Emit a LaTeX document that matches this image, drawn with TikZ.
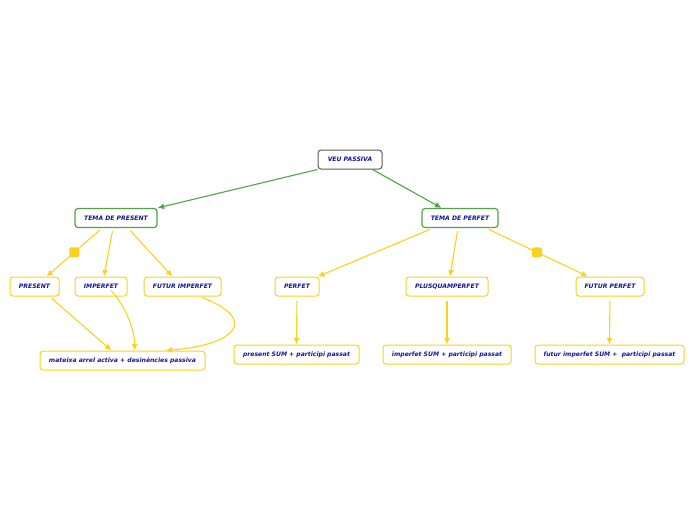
\documentclass[tikz,border=0pt]{standalone}
\usepackage{fontspec}
\setmainfont{DejaVu Sans}
\usetikzlibrary{arrows.meta}
\definecolor{mapgold}{RGB}{250,210,30}
\definecolor{mapgreen}{RGB}{80,165,70}
\definecolor{mapgray}{RGB}{90,90,90}
\definecolor{mapnavy}{RGB}{20,20,150}
\begin{document}
\begin{tikzpicture}[x=1pt, y=-1pt, >={Latex[length=6.5pt,width=6pt]},
    box/.style={draw, rounded corners=3pt, fill=white, minimum height=19pt, inner sep=0pt,
        text=mapnavy, font=\fontsize{6.1}{7}\selectfont\bfseries\itshape, line width=1pt},
    rootbox/.style={box, draw=mapgray},
    greenbox/.style={box, draw=mapgreen, line width=1.2pt},
    goldbox/.style={box, draw=mapgold},
    greenline/.style={->, mapgreen, line width=1.1pt},
    goldline/.style={->, mapgold, line width=1.1pt, shorten <=3pt},
    knob/.style={fill=mapgold, rounded corners=1.5pt, minimum size=10pt, inner sep=0pt}]
        \useasboundingbox (0,0) rectangle (696,520);
        % 1. Arrel
        \node[rootbox, minimum width=64pt] (veu) at (350,159.5) {VEU PASSIVA};
        
        % 2. Temes
        \node[greenbox, minimum width=82pt] (tpres) at (116,218) {TEMA DE PRESENT};
        \node[greenbox, minimum width=76pt] (tperf) at (460,218) {TEMA DE PERFET};
        
        % 3. Temps verbals
        \node[goldbox, minimum width=49pt] (pres) at (34.5,286.5) {PRESENT};
        \node[goldbox, minimum width=52pt] (imperf) at (101,286.5) {IMPERFET};
        \node[goldbox, minimum width=77pt] (futimp) at (182.5,286.5) {FUTUR IMPERFET};
        \node[goldbox, minimum width=44pt] (perf) at (297,286.5) {PERFET};
        \node[goldbox, minimum width=82pt] (plusq) at (447,286.5) {PLUSQUAMPERFET};
        \node[goldbox, minimum width=68pt] (futperf) at (610,286.5) {FUTUR PERFET};
        
        % 4. Formacio
        \node[goldbox, minimum width=165pt] (arrel) at (122.5,360.5) {mateixa arrel activa + desinències passiva};
        \node[goldbox, minimum width=125pt] (psum) at (296.5,354.5) {present SUM + participi passat};
        \node[goldbox, minimum width=128pt] (isum) at (447,354.5) {imperfet SUM + participi passat};
        \node[goldbox, minimum width=149pt] (fsum) at (609.5,354.5) {futur imperfet SUM +\ \ participi passat};
        
        % 5. Connectors
        \draw[greenline] (veu.south west) -- (tpres.north east);
        \draw[greenline] ([xshift=-10pt]veu.south east) -- ([xshift=20pt]tperf.north west);
        
        \draw[goldline] ([xshift=-14pt]tpres.south) -- node[knob] {} ([xshift=12pt]pres.north);
        \draw[goldline] ([xshift=-3pt]tpres.south) -- ([xshift=3pt]imperf.north);
        \draw[goldline] ([xshift=12pt]tpres.south) -- ([xshift=-10pt]futimp.north);
        \draw[goldline] ([xshift=-27pt]tperf.south) -- ([xshift=21pt]perf.north);
        \draw[goldline] ([xshift=-2pt]tperf.south) -- ([xshift=3pt]plusq.north);
        \draw[goldline] ([xshift=26pt]tperf.south) -- node[knob] {} ([xshift=-22pt]futperf.north);
        
        \draw[goldline] ([xshift=15pt]pres.south) -- ([xshift=-11pt]arrel.north);
        \draw[goldline, shorten <=0pt] ([shift={(10,4)}]imperf.center)
            .. controls (125,305) and (135,330) .. ([xshift=12pt]arrel.north);
        \draw[goldline] ([xshift=17pt]futimp.south)
            .. controls (260,320) and (235,345) .. ([xshift=-40pt]arrel.north east);
        
        \draw[goldline, shorten <=4pt] (perf.south) -- (psum.north);
        \draw[goldline, shorten <=4pt] (plusq.south) -- (isum.north);
        \draw[goldline, shorten <=4pt] (futperf.south) -- (fsum.north);
        
    \end{tikzpicture}
\end{document}
